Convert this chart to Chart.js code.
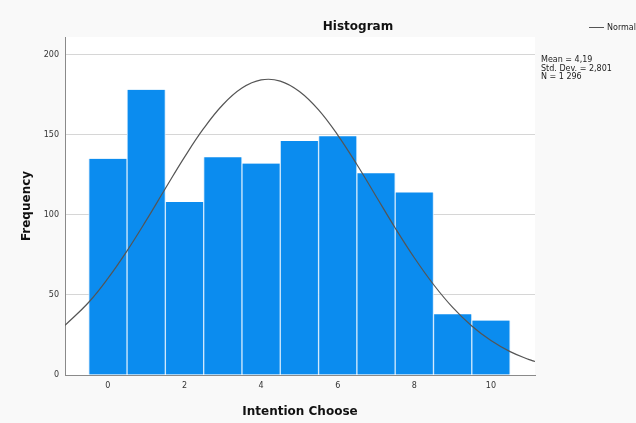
<!DOCTYPE html>
<html>
<head>
<meta charset="utf-8">
<script src="https://cdn.jsdelivr.net/npm/chart.js@4.4.1/dist/chart.umd.min.js"></script>
<style>
html,body{margin:0;padding:0;background:#f9f9f9;}
#wrap{width:636px;height:423px;position:relative;}
</style>
</head>
<body>
<div id="wrap"><canvas id="c" width="636" height="423"></canvas></div>
<script>
const binCenters = [0,1,2,3,4,5,6,7,8,9,10];
const frequencies = [135,178,108,136,132,146,149,126,114,38,34];
const curveX = [-1.12,-0.5,0,0.5,1,1.5,2,2.5,3,3.5,4,4.5,5,5.5,6,6.5,7,7.5,8,8.5,9,9.5,10,10.5,11,11.15];
const curveY = [31,45.4,60.3,77.5,96.5,116.4,136,153.9,168.7,179.1,184.2,183.5,177,165.5,149.8,131.4,111.6,91.8,73.2,56.5,42.2,30.6,21.5,14.6,9.6,8.4];
const xTicks = [0,2,4,6,8,10];
const yTicks = [0,50,100,150,200];
const statsLines = ["Mean = 4,19","Std. Dev. = 2,801","N = 1 296"];
const chartTitle = "Histogram";
const xTitle = "Intention Choose";
const yTitle = "Frequency";
const legendLabel = "Normal";

const FONT = "'DejaVu Sans', sans-serif";

const decor = {
  id:'decor',
  beforeDraw(chart){
    const {ctx, chartArea:a} = chart;
    ctx.save();
    ctx.fillStyle = '#ffffff';
    ctx.fillRect(a.left, a.top, a.right-a.left, a.bottom-a.top);
    ctx.restore();
  },
  afterDraw(chart){
    const {ctx, chartArea:a} = chart;
    ctx.save();
    ctx.fillStyle = '#111';
    ctx.font = "bold 12px " + FONT;
    ctx.textAlign = 'center';
    ctx.textBaseline = 'middle';
    ctx.fillText(chartTitle, 358, 27);
    ctx.font = "8px " + FONT;
    ctx.textAlign = 'left';
    ctx.fillStyle = '#222';
    statsLines.forEach((s,i)=>ctx.fillText(s, 541, 60 + i*8.5));
    ctx.strokeStyle = '#555';
    ctx.lineWidth = 1;
    ctx.beginPath(); ctx.moveTo(589, 27.5); ctx.lineTo(604, 27.5); ctx.stroke();
    ctx.fillText(legendLabel, 607, 28);
    ctx.restore();
  }
};

new Chart(document.getElementById('c'), {
  data: {
    datasets: [
      {
        type:'line',
        data: curveX.map((x,i)=>({x, y:curveY[i]})),
        borderColor:'#555555',
        borderWidth:1.2,
        pointRadius:0,
        tension:0.4,
        fill:false,
        order:0
      },
      {
        type:'bar',
        data: binCenters.map((x,i)=>({x, y:frequencies[i]})),
        backgroundColor:'#0b8cef',
        borderColor:'#cfe8fc',
        borderWidth:{left:1,right:1,top:0,bottom:0},
        barPercentage:1,
        categoryPercentage:1,
        order:1
      }
    ]
  },
  options: {
    responsive:false,
    animation:false,
    layout:{padding:{left:16,right:101,top:37,bottom:0}},
    plugins:{legend:{display:false}, tooltip:{enabled:false}, title:{display:false}},
    scales:{
      x:{
        type:'linear', min:-1.12, max:11.15, offset:false,
        afterFit(s){ s.height = 48; },
        afterBuildTicks(s){ s.ticks = xTicks.map(v=>({value:v})); },
        grid:{display:false, drawTicks:false, offset:false},
        border:{display:true, color:'#8a8a8a', width:1},
        ticks:{font:{size:8, family:FONT}, color:'#333', padding:6},
        title:{display:true, text:xTitle, font:{size:12, weight:'bold', family:FONT}, color:'#111', padding:{top:8}}
      },
      y:{
        type:'linear', min:0, max:211,
        afterFit(s){ s.width = 49; },
        afterBuildTicks(s){ s.ticks = yTicks.map(v=>({value:v})); },
        grid:{color:(c)=> c.tick && c.tick.value===0 ? 'rgba(0,0,0,0)' : '#d6d6d6', drawTicks:false, lineWidth:1},
        border:{display:true, color:'#8a8a8a', width:1},
        ticks:{font:{size:8, family:FONT}, color:'#333', padding:6},
        title:{display:true, text:yTitle, font:{size:12, weight:'bold', family:FONT}, color:'#111', padding:{bottom:2}}
      }
    }
  },
  plugins:[decor]
});
</script>
</body>
</html>
